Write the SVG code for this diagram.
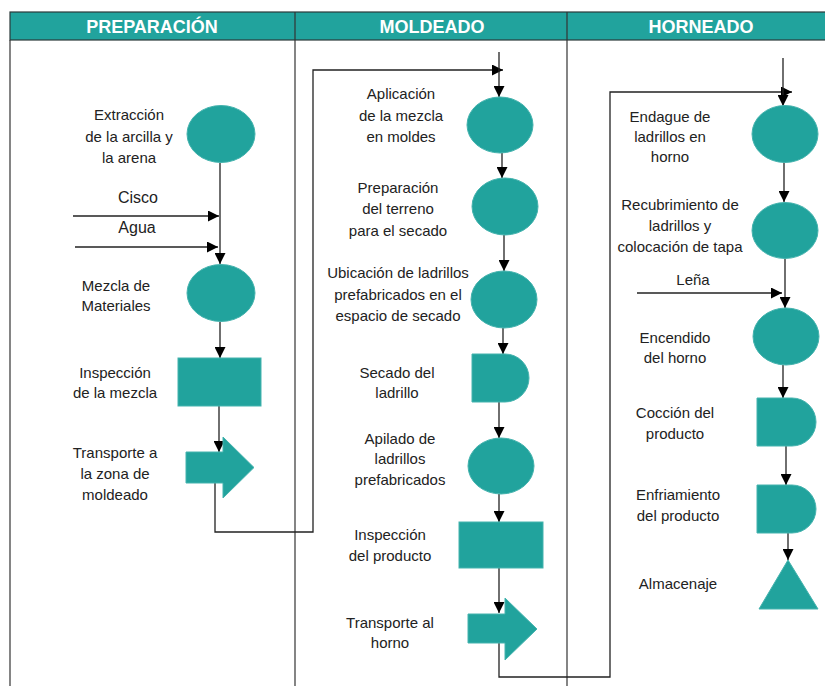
<svg xmlns="http://www.w3.org/2000/svg" width="825" height="686" viewBox="0 0 825 686">
<defs>
<style>
.hdr{fill:#21a39d;stroke:#2b3a3a;stroke-width:1.2}
.htxt{font-family:"Liberation Sans",Arial,sans-serif;font-size:18px;font-weight:bold;fill:#ffffff;text-anchor:middle}
.lane{fill:none;stroke:#333;stroke-width:1.2}
.shape{fill:#21a39d;stroke:#45b3ae;stroke-width:1}
.lbl{font-family:"Liberation Sans",Arial,sans-serif;font-size:15px;fill:#222;text-anchor:middle}
.in{font-family:"Liberation Sans",Arial,sans-serif;font-size:16px;fill:#222;text-anchor:middle}
.cn{fill:none;stroke:#222;stroke-width:1.3}
</style>
<marker id="ah" viewBox="0 0 10 10" refX="10" refY="5" markerWidth="11" markerHeight="11" markerUnits="userSpaceOnUse" orient="auto">
<path d="M0,0 L10,5 L0,10 Z" fill="#000"/>
</marker>
</defs>
<rect width="825" height="686" fill="#ffffff"/>
<g id="lanes">
<rect class="hdr" x="10" y="12" width="816" height="28"/>
<line class="lane" x1="10" y1="40" x2="10" y2="686"/>
<line class="lane" x1="295" y1="12" x2="295" y2="686"/>
<line class="lane" x1="567" y1="12" x2="567" y2="686"/>
<text class="htxt" x="152" y="33">PREPARACIÓN</text>
<text class="htxt" x="432" y="33">MOLDEADO</text>
<text class="htxt" x="701" y="33">HORNEADO</text>
</g>
<g id="connectors">
<path class="cn" d="M220,163 V264" marker-end="url(#ah)"/>
<path class="cn" d="M73,216 H219" marker-end="url(#ah)"/>
<path class="cn" d="M75,247 H218" marker-end="url(#ah)"/>
<path class="cn" d="M220,322 V358" marker-end="url(#ah)"/>
<path class="cn" d="M219,406 V452" marker-end="url(#ah)"/>
<path class="cn" d="M215,483 V532 H313 V70 H503" marker-end="url(#ah)"/>
<path class="cn" d="M499,52 V97" marker-end="url(#ah)"/>
<path class="cn" d="M502,153 V178" marker-end="url(#ah)"/>
<path class="cn" d="M504,235 V271" marker-end="url(#ah)"/>
<path class="cn" d="M503,328 V354" marker-end="url(#ah)"/>
<path class="cn" d="M499,402 V438" marker-end="url(#ah)"/>
<path class="cn" d="M499,494 V522" marker-end="url(#ah)"/>
<path class="cn" d="M499,568 V613" marker-end="url(#ah)"/>
<path class="cn" d="M499,643 V677 H610 V92 H792" marker-end="url(#ah)"/>
<path class="cn" d="M783,58 V106" marker-end="url(#ah)"/>
<path class="cn" d="M784,162 V202" marker-end="url(#ah)"/>
<path class="cn" d="M637,293 H782" marker-end="url(#ah)"/>
<path class="cn" d="M785,258 V308" marker-end="url(#ah)"/>
<path class="cn" d="M783,365 V398" marker-end="url(#ah)"/>
<path class="cn" d="M786,446 V485" marker-end="url(#ah)"/>
<path class="cn" d="M788,533 V560" marker-end="url(#ah)"/>
</g>
<g id="inputs">
<text class="in" x="138" y="203">Cisco</text>
<text class="in" x="137" y="233">Agua</text>
<text class="lbl" x="693" y="285">Leña</text>
</g>
<g id="n1">
<ellipse class="shape" cx="221" cy="134" rx="34" ry="28.5"/>
<text class="lbl" x="129" y="120">Extracción</text>
<text class="lbl" x="129" y="142">de la arcilla y</text>
<text class="lbl" x="129" y="163">la arena</text>
</g>
<g id="n2">
<ellipse class="shape" cx="221" cy="293" rx="34" ry="28.5"/>
<text class="lbl" x="116" y="291">Mezcla de</text>
<text class="lbl" x="116" y="311">Materiales</text>
</g>
<g id="n3">
<rect class="shape" x="178" y="358" width="83" height="48"/>
<text class="lbl" x="115" y="378">Inspección</text>
<text class="lbl" x="115" y="398">de la mezcla</text>
</g>
<g id="n4">
<polygon class="shape" points="186,452 223,452 223,437 254,467.5 223,498 223,483 186,483"/>
<text class="lbl" x="115" y="458">Transporte a</text>
<text class="lbl" x="115" y="479">la zona de</text>
<text class="lbl" x="115" y="500">moldeado</text>
</g>
<g id="n5">
<ellipse class="shape" cx="500" cy="125" rx="33" ry="28"/>
<text class="lbl" x="401" y="99">Aplicación</text>
<text class="lbl" x="401" y="121">de la mezcla</text>
<text class="lbl" x="401" y="142">en moldes</text>
</g>
<g id="n6">
<ellipse class="shape" cx="505" cy="206.5" rx="33" ry="28.5"/>
<text class="lbl" x="398" y="193">Preparación</text>
<text class="lbl" x="398" y="214">del terreno</text>
<text class="lbl" x="398" y="236">para el secado</text>
</g>
<g id="n7">
<ellipse class="shape" cx="504" cy="299.5" rx="33" ry="28.5"/>
<text class="lbl" x="398" y="278">Ubicación de ladrillos</text>
<text class="lbl" x="398" y="300">prefabricados en el</text>
<text class="lbl" x="398" y="321">espacio de secado</text>
</g>
<g id="n8">
<path class="shape" d="M472,354 H505 A24,24 0 0 1 505,402 H472 Z"/>
<text class="lbl" x="397" y="378">Secado del</text>
<text class="lbl" x="397" y="398">ladrillo</text>
</g>
<g id="n9">
<ellipse class="shape" cx="501" cy="466" rx="33" ry="28"/>
<text class="lbl" x="400" y="444">Apilado de</text>
<text class="lbl" x="400" y="464">ladrillos</text>
<text class="lbl" x="400" y="485">prefabricados</text>
</g>
<g id="n10">
<rect class="shape" x="459" y="522" width="84" height="46"/>
<text class="lbl" x="390" y="540">Inspección</text>
<text class="lbl" x="390" y="561">del producto</text>
</g>
<g id="n11">
<polygon class="shape" points="468,614 505,614 505,598 537,629 505,660 505,643 468,643"/>
<text class="lbl" x="390" y="628">Transporte al</text>
<text class="lbl" x="390" y="648">horno</text>
</g>
<g id="n12">
<ellipse class="shape" cx="785" cy="134" rx="33" ry="28.5"/>
<text class="lbl" x="670" y="122">Endague de</text>
<text class="lbl" x="670" y="142">ladrillos en</text>
<text class="lbl" x="670" y="162">horno</text>
</g>
<g id="n13">
<ellipse class="shape" cx="785" cy="230.5" rx="33" ry="28"/>
<text class="lbl" x="680" y="210">Recubrimiento de</text>
<text class="lbl" x="680" y="231">ladrillos y</text>
<text class="lbl" x="680" y="252">colocación de tapa</text>
</g>
<g id="n14">
<ellipse class="shape" cx="786" cy="336.5" rx="33" ry="28.5"/>
<text class="lbl" x="675" y="343">Encendido</text>
<text class="lbl" x="675" y="363">del horno</text>
</g>
<g id="n15">
<path class="shape" d="M757,398 H792 A24,24 0 0 1 792,446 H757 Z"/>
<text class="lbl" x="675" y="418">Cocción del</text>
<text class="lbl" x="675" y="439">producto</text>
</g>
<g id="n16">
<path class="shape" d="M757,485 H792 A24,24 0 0 1 792,533 H757 Z"/>
<text class="lbl" x="678" y="500">Enfriamiento</text>
<text class="lbl" x="678" y="521">del producto</text>
</g>
<g id="n17">
<polygon class="shape" points="788,560 818,609 759,609"/>
<text class="lbl" x="678" y="589">Almacenaje</text>
</g>
</svg>
